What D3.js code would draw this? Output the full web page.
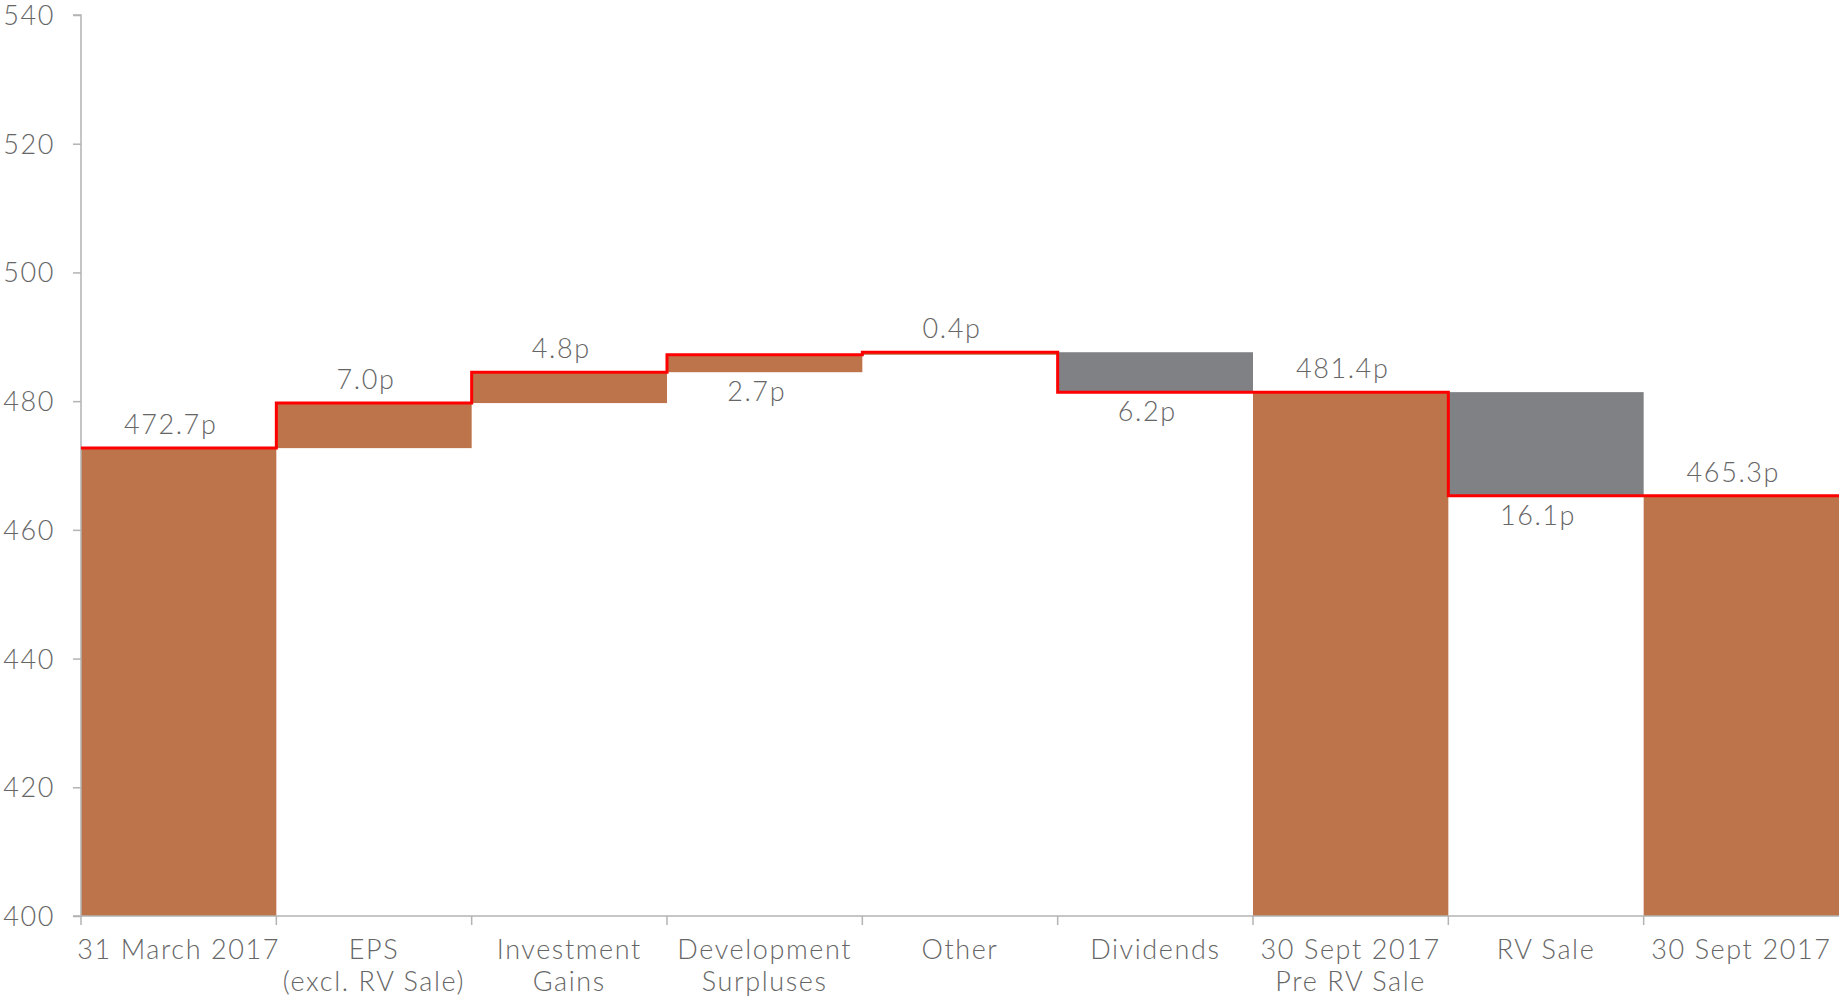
<!DOCTYPE html>
<html>
<head>
<meta charset="utf-8">
<script src="https://cdn.jsdelivr.net/npm/d3@7"></script>
<style>
  html, body { margin: 0; padding: 0; background: #fff; }
  svg text { font-family: "Lato", "Open Sans", "DejaVu Sans", sans-serif; font-weight: 300; letter-spacing: 1.6px; }
</style>
</head>
<body>
<svg id="chart" width="1839" height="997"></svg>
<script>
// ---- data ----
const categories = [
  ["31 March 2017"],
  ["EPS", "(excl. RV Sale)"],
  ["Investment", "Gains"],
  ["Development", "Surpluses"],
  ["Other"],
  ["Dividends"],
  ["30 Sept 2017", "Pre RV Sale"],
  ["RV Sale"],
  ["30 Sept 2017"]
];
const values = [472.7, 7.0, 4.8, 2.7, 0.4, -6.2, 481.4, -16.1, 465.3];
const kinds = ["total", "delta", "delta", "delta", "delta", "delta", "total", "delta", "total"];
const valueLabels = ["472.7p", "7.0p", "4.8p", "2.7p", "0.4p", "6.2p", "481.4p", "16.1p", "465.3p"];
const labelSide = ["above", "above", "above", "below", "above", "below", "above", "below", "above"];
const yTicks = [400, 420, 440, 460, 480, 500, 520, 540];

// ---- build waterfall rows ----
let running = 0;
const rows = values.map((v, i) => {
  let start, end;
  if (kinds[i] === "total") { start = yTicks[0]; end = v; running = v; }
  else { start = running; end = running + v; running = end; }
  return { i, start, end, level: running, v, kind: kinds[i] };
});

const svg = d3.select("#chart");
const W = 1839, H = 997;
const margin = { left: 81, right: 0, top: 15, bottom: 81 };
const x = d3.scaleBand().domain(d3.range(categories.length)).range([margin.left, W - margin.right]).padding(0);
const y = d3.scaleLinear().domain([400, 540]).range([H - margin.bottom, margin.top]);

const orange = "#be744a", grey = "#808184";
const axisColor = "#b3b3b3", textColor = "#666666";

// bars
svg.append("g").selectAll("rect").data(rows).join("rect")
  .attr("x", d => x(d.i))
  .attr("width", x.bandwidth())
  .attr("y", d => y(Math.max(d.start, d.end)))
  .attr("height", d => Math.abs(y(d.start) - y(d.end)))
  .attr("fill", d => (d.kind === "delta" && d.v < 0) ? grey : orange);

// y axis
const yAxis = d3.axisLeft(y).tickValues(yTicks).tickSize(8).tickPadding(18).tickFormat(d3.format("d"));
const gy = svg.append("g").attr("transform", `translate(${margin.left},0)`).call(yAxis);
gy.select(".domain").attr("stroke", axisColor).attr("stroke-width", 1.5).attr("d", `M-8,${y(540)}H0V${y(400)}H-8`);
gy.selectAll(".tick line").attr("stroke", axisColor).attr("stroke-width", 1.5);
gy.selectAll(".tick text").attr("fill", textColor).style("font-size", "27px")
  .style("font-family", '"Lato", "Open Sans", sans-serif').style("font-weight", 300).attr("dy", "0.35em");

// x axis line + ticks at band boundaries
const gx = svg.append("g");
gx.append("line").attr("x1", margin.left).attr("x2", W).attr("y1", y(400)).attr("y2", y(400))
  .attr("stroke", axisColor).attr("stroke-width", 1.5);
gx.selectAll("line.tk").data(d3.range(categories.length)).join("line").attr("class", "tk")
  .attr("x1", d => x(d)).attr("x2", d => x(d))
  .attr("y1", y(400)).attr("y2", y(400) + 9)
  .attr("stroke", axisColor).attr("stroke-width", 1.5);

// category labels
const cl = svg.append("g").selectAll("text").data(categories).join("text")
  .attr("x", (d, i) => x(i) + x.bandwidth() / 2)
  .attr("y", y(400) + 43)
  .attr("text-anchor", "middle")
  .attr("fill", textColor)
  .style("font-size", "27px");
cl.selectAll("tspan").data(d => d).join("tspan")
  .attr("x", function () { return d3.select(this.parentNode).attr("x"); })
  .attr("dy", (d, j) => j === 0 ? 0 : 32)
  .text(d => d);

// red step line
const pts = [];
rows.forEach(r => {
  pts.push([x(r.i), y(r.level)]);
  pts.push([x(r.i) + x.bandwidth(), y(r.level)]);
});
svg.append("path")
  .attr("d", d3.line()(pts))
  .attr("fill", "none")
  .attr("stroke", "#ff0000")
  .attr("stroke-width", 3)
  .attr("stroke-linejoin", "miter");

// value labels
svg.append("g").selectAll("text").data(rows).join("text")
  .attr("x", d => x(d.i) + x.bandwidth() / 2 - 8)
  .attr("y", d => labelSide[d.i] === "above"
    ? y(Math.max(d.start, d.end)) - 14
    : y(Math.min(d.start, d.end)) + 29)
  .attr("text-anchor", "middle")
  .attr("fill", textColor)
  .style("font-size", "27px")
  .text(d => valueLabels[d.i]);
</script>
</body>
</html>
